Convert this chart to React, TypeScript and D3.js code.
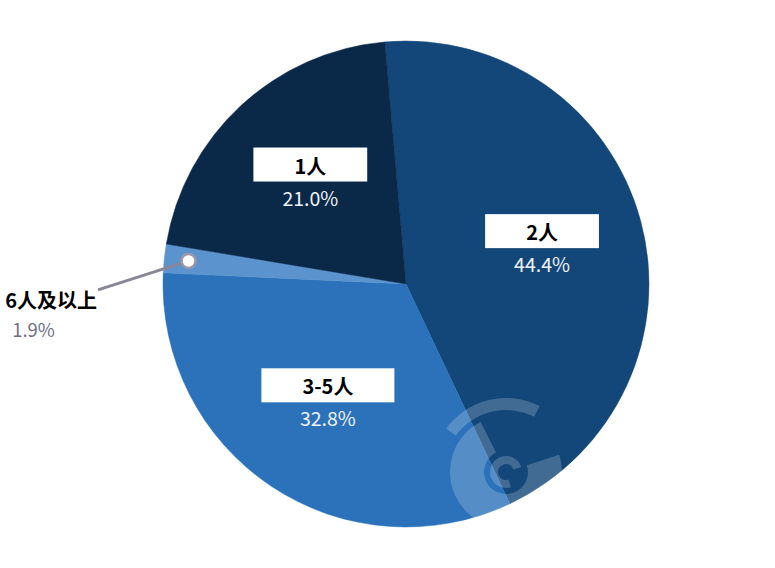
import { useEffect, useRef } from "react";
import * as d3 from "d3";

// household size shares, clockwise from just left of 12 o'clock
const categories = ["2人", "3-5人", "6人及以上", "1人"];
const shares = [44.4, 32.8, 1.9, 21.0];
const colors = ["#13477a", "#2b72ba", "#5b93cf", "#0a2847"];

const FONT = "'Noto Sans CJK SC', 'Microsoft YaHei', sans-serif";

export default function App() {
  const svgRef = useRef<SVGSVGElement>(null);

  useEffect(() => {
    if (!svgRef.current) return;

    const width = 775;
    const height = 568;
    const cx = 406;
    const cy = 284;
    const r = 243;

    d3.select(svgRef.current).selectAll("*").remove();

    const svg = d3
      .select(svgRef.current)
      .attr("width", width)
      .attr("height", height)
      .attr("viewBox", `0 0 ${width} ${height}`);

    const data = categories.map((name, i) => ({
      name,
      value: shares[i],
      color: colors[i],
    }));

    const start = (-5 * Math.PI) / 180;
    const pie = d3
      .pie<(typeof data)[0]>()
      .sort(null)
      .value((d) => d.value)
      .startAngle(start)
      .endAngle(start + Math.PI * 2);

    const arcs = pie(data);

    const arc = d3
      .arc<d3.PieArcDatum<(typeof data)[0]>>()
      .innerRadius(0)
      .outerRadius(r);

    const labelArc = d3
      .arc<d3.PieArcDatum<(typeof data)[0]>>()
      .innerRadius(r * 0.58)
      .outerRadius(r * 0.58);

    const markerArc = d3
      .arc<d3.PieArcDatum<(typeof data)[0]>>()
      .innerRadius(r * 0.9)
      .outerRadius(r * 0.9);

    const g = svg.append("g").attr("transform", `translate(${cx},${cy})`);

    g.selectAll("path.slice")
      .data(arcs)
      .join("path")
      .attr("class", "slice")
      .attr("fill", (d) => d.data.color)
      .attr("stroke", (d) => d.data.color)
      .attr("stroke-width", 0.5)
      .attr("d", arc);

    // faint watermark swirl
    const wm = svg
      .append("g")
      .attr("transform", "translate(506,472)")
      .attr("fill", "#ffffff")
      .attr("fill-opacity", 0.2);
    const swirl = d3.arc<any>();
    wm.append("path").attr(
      "d",
      swirl({
        innerRadius: 22,
        outerRadius: 56,
        startAngle: Math.PI * 0.4,
        endAngle: Math.PI * 1.85,
      })
    );
    wm.append("path").attr(
      "d",
      swirl({
        innerRadius: 62,
        outerRadius: 74,
        startAngle: Math.PI * 1.7,
        endAngle: Math.PI * 2.15,
      })
    );
    wm.append("path").attr(
      "d",
      swirl({
        innerRadius: 8,
        outerRadius: 16,
        startAngle: Math.PI * 0.9,
        endAngle: Math.PI * 2.4,
      })
    );

    const inside = arcs.filter((d) => d.data.value >= 5);
    const outside = arcs.filter((d) => d.data.value < 5);

    inside.forEach((d) => {
      const [lx, ly] = labelArc.centroid(d);
      const lg = g.append("g").attr("transform", `translate(${lx},${ly})`);
      const name = lg
        .append("text")
        .attr("text-anchor", "middle")
        .attr("y", -7)
        .attr("font-family", FONT)
        .attr("font-weight", "bold")
        .attr("font-size", 20)
        .attr("fill", "#000")
        .text(d.data.name);
      const w = (name.node() as SVGTextElement).getComputedTextLength();
      lg.insert("rect", "text")
        .attr("x", -(w + 82) / 2)
        .attr("y", -33)
        .attr("width", w + 82)
        .attr("height", 34)
        .attr("fill", "#ffffff");
      lg.append("text")
        .attr("text-anchor", "middle")
        .attr("y", 25)
        .attr("font-family", FONT)
        .attr("font-size", 19.5)
        .attr("fill", "#eef3f9")
        .text(`${d.data.value.toFixed(1)}%`);
    });

    outside.forEach((d) => {
      const [mx, my] = markerArc.centroid(d);
      const ex = -r - 65;
      const ey = my + 29;
      g.append("line")
        .attr("x1", mx)
        .attr("y1", my)
        .attr("x2", ex)
        .attr("y2", ey)
        .attr("stroke", "#8b8599")
        .attr("stroke-width", 3);
      g.append("circle")
        .attr("cx", mx)
        .attr("cy", my)
        .attr("r", 7)
        .attr("fill", "#ffffff")
        .attr("stroke", "#9d97aa")
        .attr("stroke-width", 2.5);
      const name = g
        .append("text")
        .attr("x", ex - 1)
        .attr("y", ey + 18)
        .attr("text-anchor", "end")
        .attr("font-family", FONT)
        .attr("font-weight", "bold")
        .attr("font-size", 20)
        .attr("fill", "#000")
        .text(d.data.name);
      const w = (name.node() as SVGTextElement).getComputedTextLength();
      g.append("text")
        .attr("x", ex - 1 - w + 7)
        .attr("y", ey + 47)
        .attr("font-family", FONT)
        .attr("font-size", 18.5)
        .attr("fill", "#6f6f80")
        .text(`${d.data.value.toFixed(1)}%`);
    });
  }, []);

  return (
    <svg
      ref={svgRef}
      style={{ position: "absolute", left: 0, top: 0, background: "#fff" }}
    />
  );
}
